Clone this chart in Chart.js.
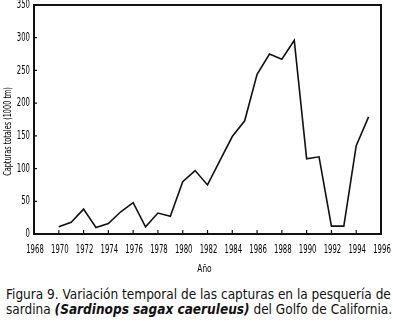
<!DOCTYPE html>
<html>
<head>
<meta charset="utf-8">
<script src="https://cdn.jsdelivr.net/npm/chart.js@4/dist/chart.umd.min.js"></script>
<style>
  html, body { margin: 0; padding: 0; background: #fff; }
  #wrap { position: relative; width: 393px; height: 321px; overflow: hidden; }
  #box { position: absolute; left: 0; top: 0; width: 393px; height: 278px; }
  #caption {
    position: absolute; left: 6px; top: 287px; width: 387px;
    font-family: "Liberation Sans Narrow", "Arial Narrow", "DejaVu Sans Condensed", sans-serif;
    font-size: 13.5px; line-height: 15px; color: #111; white-space: nowrap;
  }
  #caption i { font-weight: bold; }
</style>
</head>
<body>
<div id="wrap">
  <div id="box"><canvas id="grafico"></canvas></div>
  <div id="caption">Figura 9. Variación temporal de las capturas en la pesquería de la<br>sardina <i>(Sardinops sagax caeruleus)</i> del Golfo de California.</div>
</div>
<script>
const anios = [1970, 1971, 1972, 1973, 1974, 1975, 1976, 1977, 1978, 1979, 1980, 1981, 1982,
  1983, 1984, 1985, 1986, 1987, 1988, 1989, 1990, 1991, 1992, 1993, 1994, 1995];
const capturas = [11, 18, 38, 10, 16, 34, 48, 11, 32, 27, 80, 97, 75,
  112, 149, 173, 244, 275, 267, 296, 115, 118, 12, 12, 135, 179];
const ticksX = [1968, 1970, 1972, 1974, 1976, 1978, 1980, 1982, 1984, 1986, 1988, 1990, 1992, 1994, 1996];
const ticksY = [0, 50, 100, 150, 200, 250, 300, 350];
const tituloX = 'Año';
const tituloY = 'Capturas totales (1000 tm)';

const fuente = "'Liberation Sans Narrow', 'Arial Narrow', 'DejaVu Sans Condensed', sans-serif";

// texto angosto (la fuente original es muy condensada)
function textoAngosto(ctx, texto, x, y, k, rot) {
  ctx.save();
  ctx.translate(x, y);
  if (rot) ctx.rotate(rot);
  ctx.scale(k, 1);
  ctx.fillText(texto, 0, 0);
  ctx.restore();
}

// marcas hacia adentro, marco superior/derecho y etiquetas
const ejesFigura = {
  id: 'ejesFigura',
  afterDraw(chart) {
    const ctx = chart.ctx;
    const area = chart.chartArea;
    const x = chart.scales.x, y = chart.scales.y;
    ctx.save();
    ctx.strokeStyle = '#111';
    ctx.lineWidth = 1.2;
    ctx.beginPath();
    ticksX.forEach(t => {
      const px = x.getPixelForValue(t);
      ctx.moveTo(px, area.bottom);
      ctx.lineTo(px, area.bottom - 4);
    });
    ticksY.forEach(t => {
      const py = y.getPixelForValue(t);
      ctx.moveTo(area.left, py);
      ctx.lineTo(area.left + 3, py);
    });
    ctx.stroke();
    ctx.lineWidth = 2;
    ctx.beginPath();
    ctx.moveTo(area.left, area.top);
    ctx.lineTo(area.right, area.top);
    ctx.lineTo(area.right, area.bottom);
    ctx.stroke();

    ctx.fillStyle = '#000';
    ctx.font = '12px ' + fuente;
    ctx.textBaseline = 'middle';
    ctx.textAlign = 'center';
    ticksX.forEach(t => textoAngosto(ctx, String(t), x.getPixelForValue(t) + 1, area.bottom + 16, 0.64));
    ctx.textAlign = 'right';
    ticksY.forEach(t => textoAngosto(ctx, String(t), area.left - 4, y.getPixelForValue(t), 0.64));

    ctx.font = '11px ' + fuente;
    ctx.textAlign = 'center';
    textoAngosto(ctx, tituloX, (area.left + area.right) / 2 - 3, area.bottom + 35, 0.75);
    textoAngosto(ctx, tituloY, 8, (area.top + area.bottom) / 2 + 12, 0.66, -Math.PI / 2);
    ctx.restore();
  }
};

const config = {
  type: 'line',
  data: {
    datasets: [{
      data: anios.map((a, i) => ({x: a, y: capturas[i]})),
      borderColor: '#111',
      borderWidth: 1.6,
      pointRadius: 0,
      tension: 0,
      fill: false
    }]
  },
  options: {
    responsive: true,
    maintainAspectRatio: false,
    animation: false,
    layout: { padding: { top: 5, right: 12, left: 34, bottom: 44 } },
    scales: {
      x: {
        type: 'linear',
        min: 1968,
        max: 1996,
        grid: { display: false, drawTicks: false },
        border: { display: true, color: '#111', width: 2 },
        ticks: { display: false }
      },
      y: {
        min: 0,
        max: 350,
        grid: { display: false, drawTicks: false },
        border: { display: true, color: '#111', width: 2 },
        ticks: { display: false }
      }
    },
    plugins: {
      legend: { display: false },
      tooltip: { enabled: false }
    }
  },
  plugins: [ejesFigura]
};

new Chart(document.getElementById('grafico'), config);
</script>
</body>
</html>
